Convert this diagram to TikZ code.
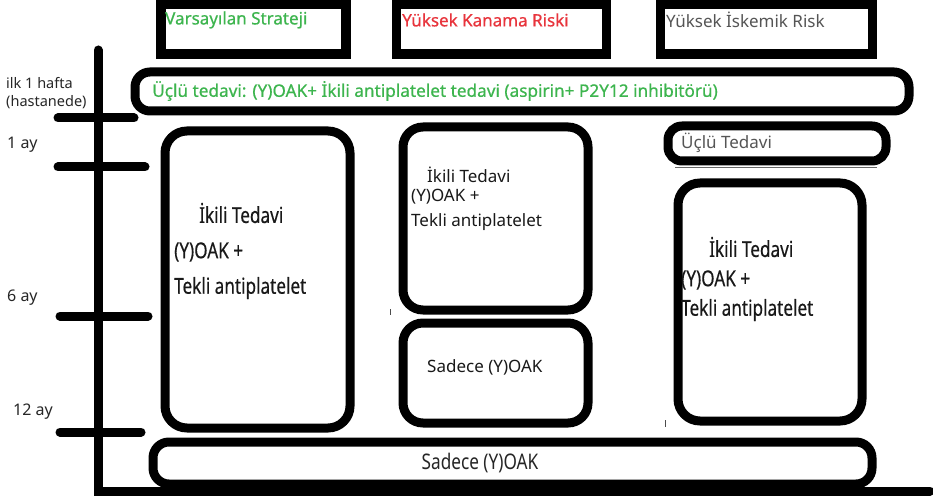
\documentclass[tikz,border=0pt]{standalone}
\usepackage{fontspec}
\setmainfont{Noto Sans}
\newfontfamily\condfont[FakeStretch=0.78,FakeBold=0.4]{Noto Sans}
\newfontfamily\condlight[FakeStretch=0.8]{Noto Sans}
\newfontfamily\semifont[FakeBold=0.6]{Noto Sans}
\definecolor{hgreen}{HTML}{3DB54E}
\definecolor{hred}{HTML}{E8343C}
\definecolor{hgray}{HTML}{555555}
\tikzset{
  box/.style={draw=black, line width=9pt, fill=white, inner sep=0pt},
  hbox/.style={box, line width=9.5pt},
  axisline/.style={line width=9pt, line cap=round},
  tickline/.style={line width=9pt, line cap=round},
  lbl/.style={anchor=west, inner sep=0pt},
  hdr/.style={lbl, font=\semifont\fontsize{17}{20}\selectfont},
  lefttxt/.style={lbl, font=\fontsize{14.5}{17}\selectfont, text=black!85},
  aytxt/.style={lbl, font=\fontsize{16}{19}\selectfont, text=black!85},
  bigtxt/.style={lbl, font=\condfont\fontsize{22}{26}\selectfont, text=black!90},
  midtxt/.style={lbl, font=\fontsize{17}{20}\selectfont, text=black!90},
  speck/.style={line width=1pt, black!70},
}
\begin{document}
\begin{tikzpicture}[x=1pt,y=-1pt]
\useasboundingbox (0,0) rectangle (933,502);
% header boxes
\node[hbox, minimum width=185pt, minimum height=50pt] (h1) at (253.5,29) {};
\node[hbox, minimum width=210pt, minimum height=50pt] (h2) at (501.5,29) {};
\node[hbox, minimum width=212pt, minimum height=50pt] (h3) at (766.5,29) {};
\node[hdr, text=hgreen] (h1t) at (165,20) {Varsayılan Strateji};
\node[hdr, text=hred] (h2t) at (402,20) {Yüksek Kanama Riski};
\node[lbl, font=\fontsize{17}{20}\selectfont, text=hgray] (h3t) at (666,20) {Yüksek İskemik Risk};
% axes
\coordinate (ytop) at (98,50);
\coordinate (orig) at (98,491);
\coordinate (xend) at (930,491);
\draw[axisline] (ytop) -- (orig) -- (xend);
% ticks
\coordinate (t1a) at (58,118); \coordinate (t1b) at (134,118);
\coordinate (t2a) at (58,167); \coordinate (t2b) at (145,167);
\coordinate (t3a) at (60,316); \coordinate (t3b) at (148,316);
\coordinate (t4a) at (60,432); \coordinate (t4b) at (141,432);
\draw[tickline] (t1a) -- (t1b);
\draw[tickline] (t2a) -- (t2b);
\draw[tickline] (t3a) -- (t3b);
\draw[tickline] (t4a) -- (t4b);
% time labels
\node[lefttxt] (l1) at (6,83) {ilk 1 hafta};
\node[lefttxt] (l2) at (6,102) {(hastanede)};
\node[aytxt] (l3) at (7,145) {1 ay};
\node[aytxt] (l4) at (7,298) {6 ay};
\node[aytxt] (l5) at (13,412) {12 ay};
% triple therapy bar
\node[box, minimum width=774pt, minimum height=39pt, rounded corners=15pt] (tri) at (522,91.5) {};
\node[lbl, font=\semifont\fontsize{17.2}{20}\selectfont, text=hgreen] (trit) at (152,91) {Üçlü tedavi: (Y)OAK+ İkili antiplatelet tedavi (aspirin+ P2Y12 inhibitörü)};
% default strategy column
\node[box, minimum width=185pt, minimum height=297pt, rounded corners=22pt] (lbox) at (257.5,279.5) {};
\node[bigtxt] (lb1) at (199,213) {İkili Tedavi};
\node[bigtxt] (lb2) at (174,252) {(Y)OAK +};
\node[bigtxt] (lb3) at (174,288) {Tekli antiplatelet};
% high bleeding column
\node[box, minimum width=185pt, minimum height=183pt, rounded corners=20pt] (mtop) at (495.5,218.5) {};
\node[midtxt] (mt1) at (427,175) {İkili Tedavi};
\node[midtxt] (mt2) at (411,197) {(Y)OAK +};
\node[midtxt] (mt3) at (411,222) {Tekli antiplatelet};
\node[box, minimum width=185pt, minimum height=100pt, rounded corners=20pt] (mbot) at (495.5,373) {};
\node[midtxt] (mb1) at (427,367) {Sadece (Y)OAK};
% high ischemic column
\node[box, minimum width=218pt, minimum height=35pt, rounded corners=14pt] (rtop) at (777,143.5) {};
\node[midtxt, text=hgray] (rt1) at (681,143) {Üçlü Tedavi};
\node[box, minimum width=184pt, minimum height=238pt, rounded corners=22pt] (rbig) at (770,302) {};
\node[bigtxt] (rb1) at (709,247) {İkili Tedavi};
\node[bigtxt] (rb2) at (681,280) {(Y)OAK +};
\node[bigtxt] (rb3) at (681,310) {Tekli antiplatelet};
% bottom bar
\node[box, minimum width=719pt, minimum height=42pt, rounded corners=16pt] (bot) at (512.5,463) {};
\node[inner sep=0pt, font=\condlight\fontsize{21.5}{25}\selectfont, text=black!85] (bott) at (480,463) {Sadece (Y)OAK};
% specks
\coordinate (s1a) at (390,309); \coordinate (s1b) at (390,315);
\coordinate (s2a) at (665,420); \coordinate (s2b) at (665,427);
\coordinate (s3a) at (675,167); \coordinate (s3b) at (877,167);
\draw[speck] (s1a) -- (s1b);
\draw[speck] (s2a) -- (s2b);
\draw[speck, black!60, line width=0.8pt] (s3a) -- (s3b);
\end{tikzpicture}
\end{document}
